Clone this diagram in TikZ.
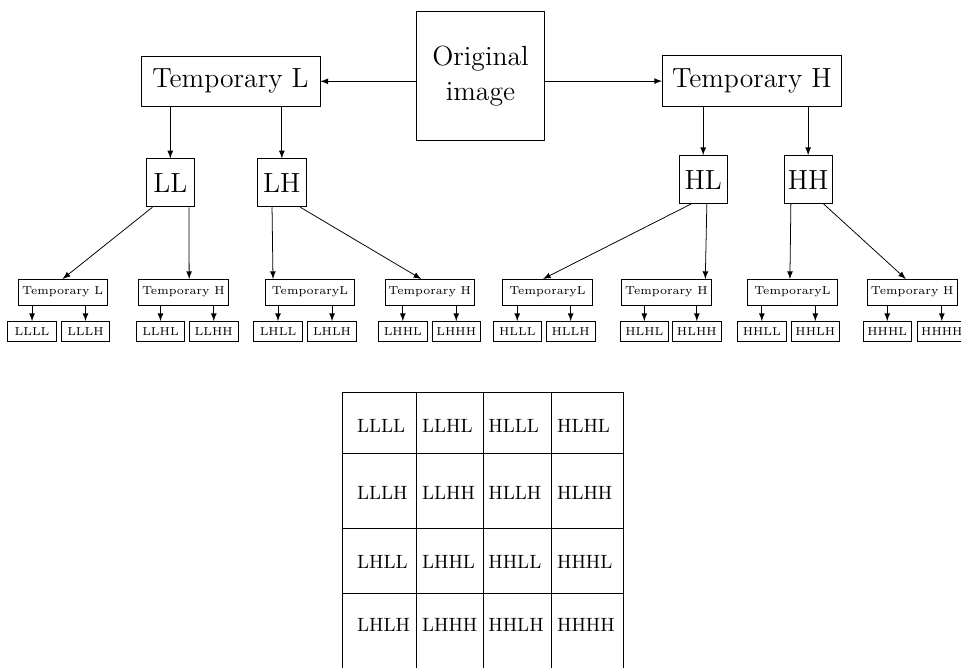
\documentclass[tikz,border=0pt]{standalone}
\usetikzlibrary{shapes,arrows,positioning}
\tikzstyle{big}=[rectangle,draw,align=center,font=\Large,inner sep=2pt]
\tikzstyle{src}=[big,minimum width=66.9pt,minimum height=66.7pt]
\tikzstyle{tmp}=[big,minimum width=93.1pt,minimum height=26.4pt]
\tikzstyle{band}=[big,minimum width=25pt,minimum height=25pt]
\tikzstyle{sub}=[rectangle,draw,font=\fontsize{6}{7}\selectfont,minimum width=46.5pt,minimum height=13.3pt,inner sep=1pt]
\tikzstyle{leaf}=[rectangle,draw,font=\fontsize{6}{7}\selectfont,minimum width=25.2pt,minimum height=10.4pt,inner sep=1pt]
\tikzstyle{cell}=[anchor=west,inner sep=0pt]
\tikzstyle{arr}=[-latex]
\begin{document}
\begin{tikzpicture}[x=0.52pt,y=-0.52pt]
\useasboundingbox (0,0) rectangle (961,667);
\clip (0,0) rectangle (961,667);
\node[src] (orig) at (480.5,75.9) {Original\\image};
\node[tmp, left=49.6pt of orig, yshift=-2.8pt] (tl) {Temporary L};
\node[tmp, right=60.7pt of orig, yshift=-2.7pt] (th) {Temporary H};
\node[band, below=26.7pt of tl, xshift=-31.3pt] (ll) {LL};
\node[band, right=32.6pt of ll] (lh) {LH};
\node[band, below=25.1pt of th, xshift=-25.3pt] (hl) {HL};
\node[band, right=29.1pt of hl] (hh) {HH};
\node[sub, below=37.3pt of ll, xshift=-56pt] (ll-l) {Temporary L};
\node[sub, right=15.9pt of ll-l] (ll-h) {Temporary H};
\node[sub, right=18.9pt of ll-h] (lh-l) {TemporaryL};
\node[sub, right=15.4pt of lh-l] (lh-h) {Temporary H};
\node[sub, right=14.3pt of lh-h] (hl-l) {TemporaryL};
\node[sub, right=15.0pt of hl-l] (hl-h) {Temporary H};
\node[sub, right=18.6pt of hl-h] (hh-l) {TemporaryL};
\node[sub, right=15.4pt of hh-l] (hh-h) {Temporary H};
\draw[arr] (orig.west |- tl) -- (tl);
\draw[arr] (orig.east |- th) -- (th);
\draw[arr] (tl.south -| ll) -- (ll);
\draw[arr] (tl.south -| lh) -- (lh);
\draw[arr] (th.south -| hl) -- (hl);
\draw[arr] (th.south -| hh) -- (hh);
\draw[arr] ([xshift=3.4pt]ll.south west) -- (ll-l.north);
\draw[arr] ([xshift=-3pt]ll.south east) -- ([xshift=3pt]ll-h.north);
\draw[arr] ([xshift=7.6pt]lh.south west) -- ([xshift=-19.2pt]lh-l.north);
\draw[arr] ([xshift=-3.1pt]lh.south east) -- ([xshift=-4.4pt]lh-h.north);
\draw[arr] ([xshift=6.4pt]hl.south west) -- ([xshift=-2.3pt]hl-l.north);
\draw[arr] ([xshift=-10.8pt]hl.south east) -- ([xshift=20.2pt]hl-h.north);
\draw[arr] ([xshift=3.8pt]hh.south west) -- ([xshift=-1.3pt]hh-l.north);
\draw[arr] ([xshift=-4.7pt]hh.south east) -- ([xshift=-3.3pt]hh-h.north);
\foreach \p/\a/\b/\da/\db in {ll-l/LLLL/LLLH/-15.9/11.9, ll-h/LLHL/LLHH/-11.9/15.8,
  lh-l/LHLL/LHLH/-16.6/11.5, lh-h/LHHL/LHHH/-14.0/13.8, hl-l/HLLL/HLLH/-15.7/12.1,
  hl-h/HLHL/HLHH/-11.5/15.8, hh-l/HHLL/HHLH/-15.9/11.9, hh-h/HHHL/HHHH/-13.0/15.4}{
  \node[leaf, below=8.2pt of \p, xshift=\da pt] (\a) {\a};
  \node[leaf, below=8.2pt of \p, xshift=\db pt] (\b) {\b};
  \draw[arr] (\a.north |- \p.south) -- (\a);
  \draw[arr] (\b.north |- \p.south) -- (\b);
}
\foreach \y/\a/\b/\c/\d in {426/LLLL/LLHL/HLLL/HLHL, 493.3/LLLH/LLHH/HLLH/HLHH,
  561.5/LHLL/LHHL/HHLL/HHHL, 625.2/LHLH/LHHH/HHLH/HHHH}{
  \node[cell] (t-\a) at (356.7,\y) {\a};
  \node[cell] (t-\b) at (421.7,\y) {\b};
  \node[cell] (t-\c) at (488,\y) {\c};
  \node[cell] (t-\d) at (556.7,\y) {\d};
}
\foreach \y in {392,453,528,593} \draw (342,\y) -- (623,\y);
\foreach \x in {342,416,483,551,623} \draw (\x,392) -- (\x,680);
\end{tikzpicture}
\end{document}
